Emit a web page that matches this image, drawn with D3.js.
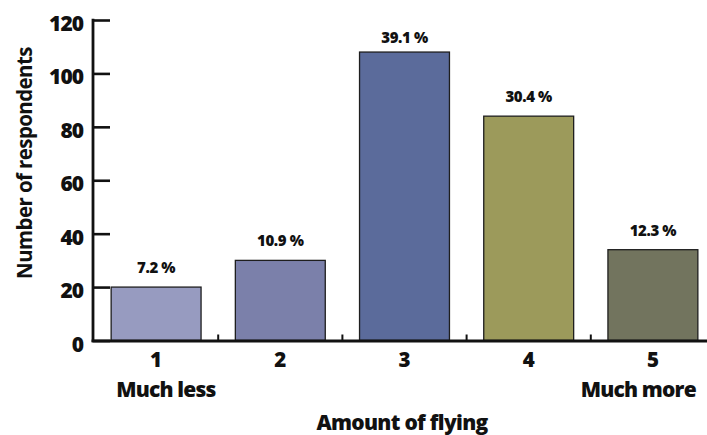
<!DOCTYPE html>
<html>
<head>
<meta charset="utf-8">
<script src="https://cdn.jsdelivr.net/npm/d3@7"></script>
<style>
  html, body { margin: 0; padding: 0; background: #fff; }
  svg { display: block; }
  text { font-family: "Open Sans", "DejaVu Sans", sans-serif; fill: #111; }
</style>
</head>
<body>
<svg id="chart" width="707" height="435"></svg>
<script>
const categories = ["1", "2", "3", "4", "5"];
const subLabels = ["Much less", "", "", "", "Much more"];
const counts = [20, 30, 108, 84, 34];
const percentLabels = ["7.2 %", "10.9 %", "39.1 %", "30.4 %", "12.3 %"];
const barColors = ["#979bc0", "#7b80aa", "#5b6b9b", "#9c9a5b", "#72745e"];
const yTicks = [0, 20, 40, 60, 80, 100, 120];
const yTitle = "Number of respondents";
const xTitle = "Amount of flying";

const svg = d3.select("#chart");
const axisX = 93, axisY = 340.5, topY = 20;

const x = d3.scaleBand()
  .domain(categories)
  .range([axisX + 1, 715])
  .paddingInner(0.276)
  .paddingOuter(0.138);

const y = d3.scaleLinear().domain([0, 120]).range([axisY, topY]);

// Bars
svg.append("g").selectAll("rect")
  .data(categories)
  .join("rect")
  .attr("x", d => x(d))
  .attr("y", (d, i) => y(counts[i]))
  .attr("width", x.bandwidth())
  .attr("height", (d, i) => y(0) - y(counts[i]))
  .attr("fill", (d, i) => barColors[i])
  .attr("stroke", "#1e1e1e")
  .attr("stroke-width", 1.3);

// Percent labels
svg.append("g").selectAll("text")
  .data(categories)
  .join("text")
  .attr("x", d => x(d) + x.bandwidth() / 2)
  .attr("y", (d, i) => Math.max(y(counts[i]) - 14, 43))
  .attr("text-anchor", "middle")
  .attr("font-size", 15)
  .attr("font-weight", 800)
  .attr("letter-spacing", -0.4)
  .text((d, i) => percentLabels[i]);

// Y axis
const yAxis = d3.axisLeft(y)
  .tickValues(yTicks)
  .tickSizeInner(-17)
  .tickSizeOuter(0)
  .tickPadding(10);
const gy = svg.append("g").attr("transform", `translate(${axisX},0)`).call(yAxis);
gy.select(".domain").remove();
gy.selectAll(".tick line").attr("stroke", "#111").attr("stroke-width", 2.6);
gy.selectAll(".tick text")
  .attr("font-size", 21)
  .attr("font-weight", 800)
  .attr("letter-spacing", -1)
  .attr("dy", "0.5em")
  .attr("fill", "#111")
  .style("font-family", "'Open Sans', sans-serif");

// Axis lines
svg.append("line")
  .attr("x1", axisX).attr("x2", axisX)
  .attr("y1", topY - 1.3).attr("y2", axisY + 1.5)
  .attr("stroke", "#111").attr("stroke-width", 2.8);
svg.append("line")
  .attr("x1", axisX - 1.4).attr("x2", 707)
  .attr("y1", axisY + 0.5).attr("y2", axisY + 0.5)
  .attr("stroke", "#111").attr("stroke-width", 2.8);

// Small separator ticks on x axis (between categories)
const step = x.step();
svg.append("g").selectAll("line")
  .data(categories.slice(1))
  .join("line")
  .attr("x1", d => x(d) - step * x.paddingInner() / 2)
  .attr("x2", d => x(d) - step * x.paddingInner() / 2)
  .attr("y1", axisY)
  .attr("y2", axisY - 6)
  .attr("stroke", "#111")
  .attr("stroke-width", 2);

// X category labels
svg.append("g").selectAll("text")
  .data(categories)
  .join("text")
  .attr("x", d => x(d) + x.bandwidth() / 2)
  .attr("y", 367)
  .attr("text-anchor", "middle")
  .attr("font-size", 20.5)
  .attr("font-weight", 800)
  .text(d => d);

// Sub labels
svg.append("g").selectAll("text")
  .data(categories.filter((d, i) => subLabels[i] !== ""))
  .join("text")
  .attr("x", d => {
    const i = categories.indexOf(d);
    return i === 0 ? x(d) + 5 : x(d) + x.bandwidth() - 2;
  })
  .attr("y", 396.5)
  .attr("text-anchor", d => categories.indexOf(d) === 0 ? "start" : "end")
  .attr("font-size", 21)
  .attr("font-weight", 800)
  .attr("letter-spacing", -0.8)
  .text(d => subLabels[categories.indexOf(d)]);

// X title
svg.append("text")
  .attr("x", 402)
  .attr("y", 430)
  .attr("text-anchor", "middle")
  .attr("font-size", 21)
  .attr("font-weight", 800)
  .attr("letter-spacing", -0.7)
  .text(xTitle);

// Y title
svg.append("text")
  .attr("transform", "translate(32,163) rotate(-90)")
  .attr("text-anchor", "middle")
  .attr("font-size", 20.5)
  .attr("font-weight", 700)
  .attr("letter-spacing", -0.6)
  .text(yTitle);
</script>
</body>
</html>
